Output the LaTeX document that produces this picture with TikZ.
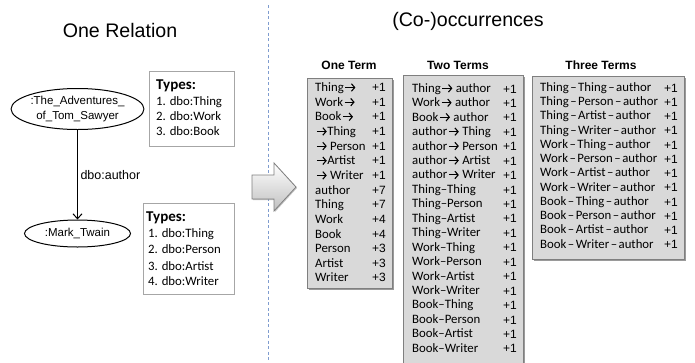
\documentclass[tikz,border=0pt]{standalone}
\usepackage{fontspec}
\setmainfont{Carlito}
\newfontfamily\arial{Liberation Sans}
\usetikzlibrary{shapes.geometric,arrows.meta,shadows}
\definecolor{boxfill}{HTML}{D9D9D9}
\definecolor{boxline}{HTML}{7F7F7F}
\definecolor{shadowc}{HTML}{9A9A9A}
\definecolor{typeline}{HTML}{A6A6A6}
\definecolor{sepblue}{HTML}{7F9CCF}
\newcommand\arr{\kern1pt\tikz[baseline=0pt]\draw[line width=1.1pt,-{Straight Barb[length=3.2pt,width=7.5pt,line width=1.1pt]}] (0pt,4pt) -- (10pt,4pt);}
\newcommand\dd{\kern1.5pt–\kern1.5pt}
\begin{document}
\begin{tikzpicture}[x=1pt,y=-1pt,
  title/.style={anchor=base,inner sep=0pt,font=\arial\fontsize{19.6}{22}\selectfont},
  coltitle/.style={anchor=base,inner sep=0pt,font=\arial\bfseries\fontsize{12}{14}\selectfont},
  tbox/.style={draw=boxline,fill=boxfill,line width=0.8pt,drop shadow={shadow xshift=1.8pt,shadow yshift=-1.8pt,fill=shadowc,opacity=1}},
  typebox/.style={draw=typeline,fill=white,line width=0.8pt},
  rowtxt/.style={anchor=base west,inner sep=0pt,font=\fontsize{12.8}{14}\selectfont},
  rownum/.style={anchor=base east,inner sep=0pt,font=\arial\fontsize{12}{14}\selectfont},
  typehead/.style={anchor=base west,inner sep=0pt,font=\bfseries\fontsize{15}{16}\selectfont},
  typeitem/.style={anchor=base west,inner sep=0pt,font=\fontsize{12.8}{14}\selectfont},
  ent/.style={ellipse,draw=black,fill=white,line width=1pt,inner sep=0pt,align=center,font=\arial\fontsize{11.5}{15.6}\selectfont},
  rel/.style={-{Straight Barb[length=5pt,width=9pt]},line width=1pt},
  sepline/.style={draw=sepblue,line width=1pt,dash pattern=on 3pt off 2.5pt},
  bigarrow/.style={draw=boxline,line width=0.8pt,top color=white,bottom color=gray!50,drop shadow={shadow xshift=1pt,shadow yshift=-1pt,fill=shadowc,opacity=0.6}}
]
\useasboundingbox (0,0) rectangle (695,362);

% separator
\draw[sepline] (268,5) -- (268,362);

% titles
\node[title] (t1) at (120,37) {One Relation};
\node[title] (t2) at (468,26) {(Co-)occurrences};

% graph
\node[ent,minimum width=130pt,minimum height=41pt] (e1) at (77.5,109) {:The\_Adventures\_\\of\_Tom\_Sawyer};
\node[ent,minimum width=106pt,minimum height=27pt] (e2) at (77.5,233.5) {:Mark\_Twain};
\draw[rel] (e1) -- (e2) node[midway,right,inner sep=2.5pt,font=\arial\fontsize{12.5}{14}\selectfont] (lab) {dbo:author};

% types boxes
\node[typebox,minimum width=85pt,minimum height=75pt,inner sep=0pt] (tb1) at (191.5,108.5) {};
\node[typehead] (tb1h) at (156,89.5) {Types:};
\node[typeitem] (tb1a) at (156,105.8) {1. dbo:Thing};
\node[typeitem] (tb1b) at (156,120.8) {2. dbo:Work};
\node[typeitem] (tb1c) at (156,135.8) {3. dbo:Book};

\node[typebox,minimum width=91pt,minimum height=91pt,inner sep=0pt] (tb2) at (188.5,248.5) {};
\node[typehead] (tb2h) at (146,221.5) {Types:};
\node[typeitem] (tb2a) at (148,237.5) {1. dbo:Thing};
\node[typeitem] (tb2b) at (148,253.5) {2. dbo:Person};
\node[typeitem] (tb2c) at (148,270) {3. dbo:Artist};
\node[typeitem] (tb2d) at (148,285.7) {4. dbo:Writer};

% big arrow
\draw[bigarrow] (252,175) -- (274,175) -- (274,163) -- (296,187) -- (274,211) -- (274,199) -- (252,199) -- cycle;

% column titles
\node[coltitle] (c1) at (349,69.5) {One Term};
\node[coltitle] (c2) at (458,69.5) {Two Terms};
\node[coltitle] (c3) at (601,69.5) {Three Terms};

% boxes
\node[tbox,minimum width=85pt,minimum height=210pt,inner sep=0pt] (b1) at (349.5,183) {};
\node[tbox,minimum width=120pt,minimum height=292pt,inner sep=0pt] (b2) at (463,221) {};
\node[tbox,minimum width=152pt,minimum height=183pt,inner sep=0pt] (b3) at (608,167.5) {};

% One Term rows
\foreach \t/\n [count=\i from 0] in {Thing\arr/+1,Work\arr/+1,Book\arr/+1,\arr Thing/+1,\arr{} Person/+1,\arr Artist/+1,\arr{} Writer/+1,author/+7,Thing/+7,Work/+4,Book/+4,Person/+3,Artist/+3,Writer/+3}{
  \node[rowtxt] (o\i) at (315,{91.5+\i*14.65}) {\t};
  \node[rownum] (on\i) at (386,{91.5+\i*14.65}) {\n};
}

% Two Terms rows
\foreach \t [count=\i from 0] in {Thing\arr{} author,Work\arr{} author,Book\arr{} author,author\arr{} Thing,author\arr{} Person,author\arr{} Artist,author\arr{} Writer,Thing–Thing,Thing–Person,Thing–Artist,Thing–Writer,Work–Thing,Work–Person,Work–Artist,Work–Writer,Book–Thing,Book–Person,Book–Artist,Book–Writer}{
  \node[rowtxt] (w\i) at (412,{92.3+\i*14.44}) {\t};
  \node[rownum] (wn\i) at (517,{93+\i*14.44}) {+1};
}

% Three Terms rows
\foreach \t [count=\i from 0] in {Thing\dd Thing\dd author,Thing\dd Person\dd author,Thing\dd Artist\dd author,Thing\dd Writer\dd author,Work\dd Thing\dd author,Work\dd Person\dd author,Work\dd Artist\dd author,Work\dd Writer\dd author,Book\dd Thing\dd author,Book\dd Person\dd author,Book\dd Artist\dd author,Book\dd Writer\dd author}{
  \node[rowtxt] (h\i) at (540,{91.3+\i*14.25}) {\t};
  \node[rownum] (hn\i) at (678,{92+\i*14.25}) {+1};
}
\end{tikzpicture}
\end{document}
